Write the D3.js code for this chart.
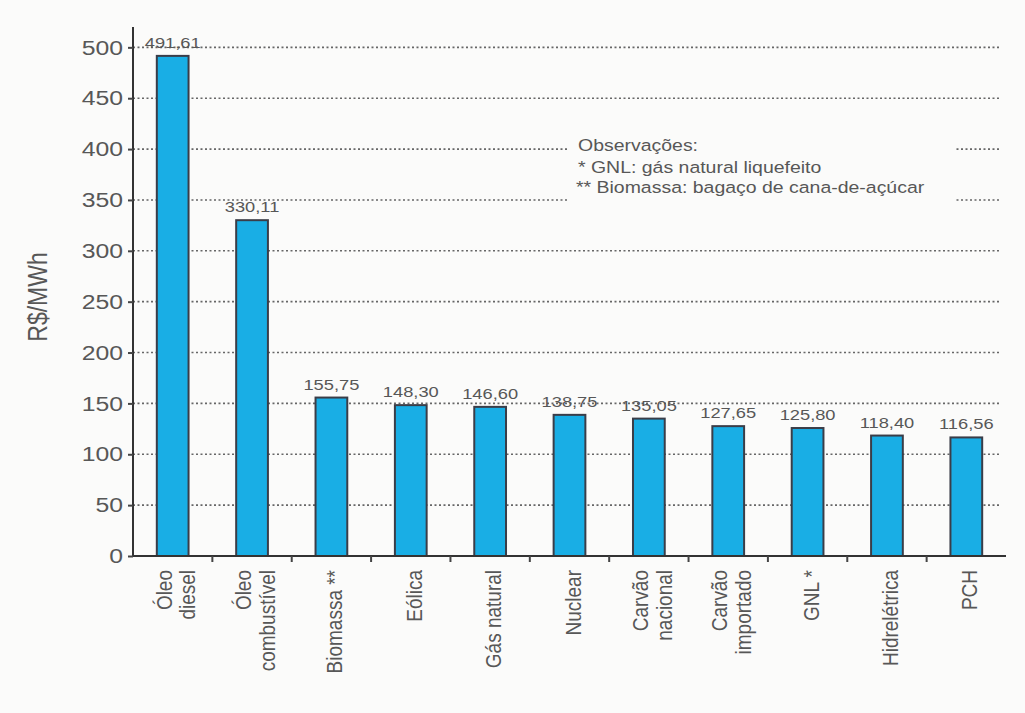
<!DOCTYPE html>
<html>
<head>
<meta charset="utf-8">
<script src="https://cdn.jsdelivr.net/npm/d3@7"></script>
<style>
  html, body { margin: 0; padding: 0; background: #fbfbfa; }
  svg { display: block; font-family: "Liberation Sans", Arial, sans-serif; }
</style>
</head>
<body>
<svg id="chart" width="1025" height="713"></svg>
<script>
// Custo da energia por fonte (R$/MWh)
const categories = [
  ["Óleo", "diesel"],
  ["Óleo", "combustível"],
  ["Biomassa **"],
  ["Eólica"],
  ["Gás natural"],
  ["Nuclear"],
  ["Carvão", "nacional"],
  ["Carvão", "importado"],
  ["GNL *"],
  ["Hidrelétrica"],
  ["PCH"]
];
const values = [491.61, 330.11, 155.75, 148.30, 146.60, 138.75, 135.05, 127.65, 125.80, 118.40, 116.56];
const yTicks = [0, 50, 100, 150, 200, 250, 300, 350, 400, 450, 500];
const notes = [
  "Observações:",
  "* GNL: gás natural liquefeito",
  "** Biomassa: bagaço de cana-de-açúcar"
];
const yLabel = "R$/MWh";

const svg = d3.select("#chart");
const keys = categories.map(c => c.join(" "));

// the printed lettering is slightly wide
const SX = 1.18;

const x0 = 133, x1 = 1006, yBase = 556;
const x = d3.scaleBand().domain(keys).range([x0, x1]).paddingInner(0.6).paddingOuter(0.3);
const y = d3.scaleLinear().domain([0, 520]).range([yBase, 27]);

const ptBR = d3.formatLocale({ decimal: ",", thousands: ".", grouping: [3], currency: ["R$", ""] });
const fmt = ptBR.format(".2f");

const textColor = "#575757";

// dotted gridlines
svg.append("g")
  .selectAll("line")
  .data(yTicks.filter(d => d > 0))
  .join("line")
  .attr("x1", x0).attr("x2", 1000)
  .attr("y1", d => y(d)).attr("y2", d => y(d))
  .attr("stroke", "#666")
  .attr("stroke-width", 1.6)
  .attr("stroke-dasharray", "2,2.5");

// notes block on a blank patch over the gridlines
const noteG = svg.append("g");
noteG.append("rect")
  .attr("x", 568).attr("y", 128)
  .attr("width", 386).attr("height", 74)
  .attr("fill", "#fbfbfa");
const noteBase = [151, 173, 193];
const noteX = [578, 578, 576];
noteG.selectAll("text")
  .data(notes)
  .join("text")
  .attr("transform", (d, i) => `translate(${noteX[i]},${noteBase[i]}) scale(${SX},1)`)
  .attr("font-size", 16.5)
  .attr("fill", textColor)
  .text(d => d);

// bars
svg.append("g")
  .selectAll("rect")
  .data(values)
  .join("rect")
  .attr("x", (d, i) => x(keys[i]))
  .attr("y", d => y(d))
  .attr("width", x.bandwidth())
  .attr("height", d => yBase - y(d))
  .attr("fill", "#19aee5")
  .attr("stroke", "#3a3d48")
  .attr("stroke-width", 2);

// value labels
svg.append("g")
  .selectAll("text")
  .data(values)
  .join("text")
  .attr("transform", (d, i) => `translate(${x(keys[i]) + x.bandwidth() / 2},${y(d) - 8}) scale(${SX},1)`)
  .attr("text-anchor", "middle")
  .attr("font-size", 15.5)
  .attr("fill", textColor)
  .text(d => fmt(d));

// y axis
const yAxis = d3.axisLeft(y).tickValues(yTicks).tickSize(5).tickPadding(6).tickFormat(d3.format("d"));
const gy = svg.append("g").attr("transform", `translate(${x0},0)`).call(yAxis);
gy.select(".domain").attr("d", `M-0,${y(520)}V${yBase}`).attr("stroke", "#333").attr("stroke-width", 2);
gy.selectAll(".tick line").attr("stroke", "#444").attr("stroke-width", 2);
gy.selectAll(".tick text")
  .attr("x", null)
  .attr("transform", `translate(-10,0) scale(${SX},1)`)
  .attr("font-size", 21)
  .attr("fill", textColor)
  .attr("font-family", "'Liberation Sans', Arial, sans-serif");

// x axis baseline with ticks between categories
const gx = svg.append("g");
gx.append("line")
  .attr("x1", x0).attr("x2", x1)
  .attr("y1", yBase).attr("y2", yBase)
  .attr("stroke", "#333").attr("stroke-width", 2);
const step = x.step();
const dividers = keys.slice(0, -1).map(k => x(k) + x.bandwidth() + (step - x.bandwidth()) / 2);
gx.selectAll("line.div")
  .data(dividers)
  .join("line")
  .attr("class", "div")
  .attr("x1", d => d).attr("x2", d => d)
  .attr("y1", yBase).attr("y2", yBase + 6)
  .attr("stroke", "#444").attr("stroke-width", 2);

// rotated category labels
const lineGap = 20;
const catG = svg.append("g")
  .selectAll("text")
  .data(categories)
  .join("text")
  .attr("transform", (d, i) => {
    const cx = x(keys[i]) + x.bandwidth() / 2;
    const tx = cx + 11 - (d.length - 1) * lineGap * SX / 2;
    return `translate(${tx},${yBase + 14}) scale(${SX},1) rotate(-90)`;
  })
  .attr("text-anchor", "end")
  .attr("font-size", 19)
  .attr("fill", textColor);
catG.selectAll("tspan")
  .data(d => d)
  .join("tspan")
  .attr("x", 0)
  .attr("dy", (d, i) => i === 0 ? 0 : lineGap)
  .text(d => d);

// y axis title
svg.append("text")
  .attr("transform", `translate(47,297) scale(${SX},1) rotate(-90)`)
  .attr("text-anchor", "middle")
  .attr("font-size", 23)
  .attr("fill", textColor)
  .text(yLabel);
</script>
</body>
</html>
